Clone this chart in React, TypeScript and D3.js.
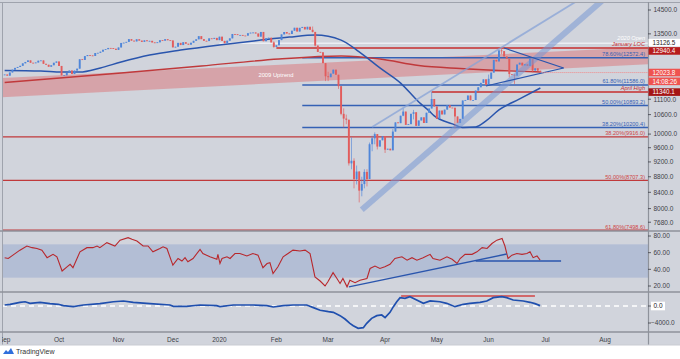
import React from "react";
import * as d3 from "d3";

// ---------- DATA ----------
const monthLabels = ["Sep", "Oct", "Nov", "Dec", "2020", "Feb", "Mar", "Apr", "May", "Jun", "Jul", "Aug"];
const monthIdx = [0, 21, 44, 65, 83, 105, 125, 147, 167, 187, 209, 232];

// daily closes, Sep 2 2019 .. Jun 29 2020 (trading-day index 0..207)
const closes = [
  11953, 11911, 12025, 12127, 12192, 12226, 12268, 12360, 12410, 12469, 12381, 12372, 12390, 12457, 12468, 12342, 12307, 12234, 12289, 12381, 12428,
  12263, 11925, 11926, 12013, 12097, 11970, 12094, 12164, 12512, 12486, 12630, 12670, 12654, 12634, 12748, 12754, 12799, 12872, 12895, 12942, 12940, 12910, 12867,
  12961, 13137, 13148, 13180, 13289, 13228, 13198, 13283, 13230, 13180, 13242, 13207, 13221, 13158, 13138, 13163, 13246, 13227, 13287, 13245, 13236,
  12965, 12989, 13140, 13055, 13167, 13106, 13071, 13145, 13222, 13282, 13407, 13288, 13222, 13212, 13319, 13300, 13337, 13249,
  13386, 13219, 13127, 13227, 13320, 13495, 13483, 13452, 13456, 13432, 13429, 13526, 13548, 13556, 13515, 13388, 13577, 13205, 13324, 13345, 13158, 12982,
  13046, 13250, 13479, 13575, 13514, 13494, 13628, 13749, 13595, 13745, 13783, 13681, 13789, 13665, 13579, 13035, 12790, 12775, 12367, 11890,
  11857, 11985, 12127, 11944, 11542, 10625, 10475, 10439, 9161, 9232, 8742, 8939, 8442, 8610, 8929, 8741, 9701, 9874, 10000, 9633, 9816, 9936,
  9544, 9571, 9526, 10075, 10356, 10333, 10565, 10697, 10280, 10302, 10626, 10676, 10250, 10416, 10514, 10337, 10660, 10796, 11108, 10862,
  10467, 10730, 10606, 10760, 10904, 10825, 10820, 10542, 10337, 10465, 11058, 11075, 11224, 11066, 11074, 11391, 11505, 11657, 11781, 11587,
  11800, 12021, 12487, 12431, 12848, 12820, 12617, 12530, 11970, 11949, 11911, 12315, 12382, 12281, 12331, 12262, 12523, 12093, 12177, 12089, 12024,
];
const firstOpen = 11940;
// notable wicks: [index, high, low]
const wicks = [
  [104, 13200, 12950], [119, 13800, 13560], [120, 13400, 13000], [124, 12300, 11720],
  [125, 12050, 11720], [129, 11800, 11450], [130, 11050, 10580], [131, 10800, 10200], [132, 10600, 10300],
  [133, 10250, 9100], [134, 9900, 9000], [135, 9300, 8500], [136, 9100, 8600], [137, 8950, 8150], [138, 8800, 8300],
  [139, 9000, 8500], [140, 9000, 8550], [141, 9750, 9050], [142, 9950, 9500], [143, 10050, 9700], [144, 9900, 9550],
  [147, 9900, 9450], [150, 10150, 9700], [154, 10800, 10550], [158, 10750, 10450], [165, 11340, 10800],
  [174, 10560, 10160], [187, 11950, 11580], [192, 12940, 12700], [195, 12500, 11850], [197, 11960, 11620], [204, 12450, 12030],
];

const ma50Idx = [0, 14, 22, 29, 37, 45, 56, 68, 83, 99, 110, 120, 130, 137, 145, 153, 160, 164, 166, 173, 177, 182, 186, 191, 199, 207];
const ma50Val = [12100, 12080, 12040, 12040, 12190, 12410, 12670, 12860, 13060, 13250, 13370, 13450, 13250, 12790, 12190, 11650, 11010, 10720, 10560, 10310, 10200, 10215, 10400, 10750, 11110, 11480];
const ma200Idx = [0, 45, 76, 106, 130, 145, 160, 176, 191, 207];
const ma200Val = [11670, 12007, 12261, 12521, 12634, 12521, 12280, 12170, 12097, 12043];

const bandIdx = [-1, 249];
const bandTop = [11830, 12980];
const bandBottom = [11170, 12330];

const blueFibLabels = ["78.60%(12572.4)", "61.80%(11586.0)", "50.00%(10893.2)", "38.20%(10200.4)"];
const blueFibValues = [12572.4, 11586.0, 10893.2, 10200.4];
const blueFibStart = 115;
const redFibLabels = ["38.20%(9916.0)", "50.00%(8707.3)", "61.80%(7498.6)"];
const redFibValues = [9916.0, 8707.3, 7498.6];

const openLevel = 13126.5, openStart = 83;
const locLevel = 12940.4, locStart = 105;
const aprilHigh = 11340.1, aprilStart = 165;
const lastPrice = 12023.8;
const countdown = "14:08:26";

const thinLineIdx = [142, 215.5], thinLineVal = [10216, 14500];
const thickLineIdx = [138, 226.7], thickLineVal = [7970, 14500];
const triUpperIdx = [193, 216], triUpperVal = [12940, 12188];
const triLowerIdx = [186, 216], triLowerVal = [11549, 12188];

const priceTicks = [14500, 13500, 11100, 10600, 10000, 9600, 9200, 8800, 8400, 8000, 7680];

const rsiIdx = [0, 1.4, 3.2, 5.9, 8.6, 10.6, 12.5, 14.4, 16.4, 18.7, 20.2, 22.2, 24.1, 25.3, 26.4, 29.1, 31.8, 34.1, 35.7, 36.8, 39.5, 42.6, 44.6, 47.7, 49.2, 51.1, 53.5, 55.4, 57.3, 60, 61.2, 62.7, 65, 67, 68.5, 69.7, 70.8, 72.8, 75.5, 76.6, 79.3, 82, 82.4, 83.2, 84, 85.9, 87.1, 89, 90.9, 93.6, 95.9, 97.9, 99.8, 101.4, 102.5, 103.7, 105.6, 107.6, 109.5, 111.4, 114.1, 116.1, 118, 119.9, 121.9, 123.8, 124.9, 126.9, 128.4, 129.6, 130.7, 132.3, 133.4, 135.4, 137.3, 140, 141.2, 143.1, 145, 146.9, 148.9, 150.8, 153.5, 155.5, 157.4, 159.3, 161.7, 164.4, 165.5, 168.2, 170.9, 172.9, 174.8, 176, 177.9, 180.6, 182.5, 184.5, 186.4, 188.3, 190.2, 192.2, 193.3, 194.5, 196, 197.9, 199.9, 201.8, 203, 204.2, 205.7, 206.9];
const rsiVal = [54, 53, 57, 63, 68, 66, 65, 63, 54, 58, 55, 38, 43, 46, 42, 61, 66, 66, 68, 66, 72, 68, 75, 78, 76, 74, 68, 68, 61, 65, 67, 65, 45, 53, 50, 54, 49, 53, 64, 59, 55, 52, 58, 47, 53, 55, 53, 59, 59, 56, 59, 57, 42, 47, 48, 35, 43, 55, 59, 63, 62, 63, 59, 31, 26, 20, 25, 36, 29, 23, 29, 19, 27, 24, 27, 29, 41, 44, 41, 43, 46, 53, 55, 51, 54, 51, 54, 58, 53, 51, 55, 52, 47, 53, 58, 58, 61, 66, 65, 71, 75, 77, 68, 53, 57, 59, 58, 59, 61, 54, 56, 51];
const rsiTicks = [80, 60, 40, 20];
const rsiTrendIdx = [133, 194], rsiTrendVal = [19, 58.4];
const rsiFlatIdx = [182, 215], rsiFlatVal = 50;

const oscIdx = [0, 2.1, 5.9, 7.9, 9.8, 13.7, 17.5, 20.7, 22.7, 26.5, 30.4, 36.8, 42, 45.9, 49.7, 56.2, 63.9, 65.2, 70.3, 75.5, 81.9, 83.2, 88.4, 96.1, 101.3, 103.8, 107.7, 111.5, 116.7, 119.3, 121.9, 125.1, 127, 129.6, 131.5, 133.4, 134.7, 136.6, 138.6, 139.9, 141.8, 143.8, 145.7, 147, 148.9, 150.2, 151.5, 152.8, 154.7, 156.6, 159.2, 161.8, 164.4, 168.2, 170.8, 174, 177.2, 179.8, 183.7, 186.3, 188.8, 192.1, 194, 196.5, 200.4, 203, 204.9, 206.9];
const oscVal = [235, 400, 870, 1000, 640, 870, 550, 400, 80, -160, 235, 550, 1000, 1180, 870, 550, 235, -80, -80, 235, 80, -160, 235, 235, 80, -235, 80, 235, 235, -390, -1000, -1330, -1490, -2270, -3060, -4080, -4630, -5250, -5100, -4080, -2900, -2270, -2120, -2750, -1490, -160, 1000, 1960, 1800, 2200, 1410, 630, 1180, 1000, 630, -160, 400, 630, 870, 1180, 1960, 2200, 1960, 1410, 1180, 870, 550, 80];
const oscRedIdx = [153.2, 204.9], oscRedVal = 2350;

// ---------- COMPONENT ----------
export default function App() {
  const W = 680, H = 359;
  const L = 2, R = 648;
  const mainTop = 2, mainBot = 231, rsiBot = 292, oscBot = 332, axisBot = 345;
  const BG = "#d1d4dc";
  const UP = "#4f86d9", DN = "#e25c5c";
  const font = "'Liberation Sans', Arial, sans-serif";

  const x = d3.scaleLinear().domain([0, 232]).range([4.65, 4.65 + 232 * 2.588]);
  const y = d3.scaleLog().domain([14500, 8000]).range([10, 208.6]);
  const ry = d3.scaleLinear().domain([20, 80]).range([286, 236]);
  const oy = d3.scaleLinear().domain([0, -4000]).range([306, 323]);

  const wickMap = new Map<number, number[]>();
  wicks.forEach((w) => wickMap.set(w[0], [w[1], w[2]]));

  const candles = closes.map((c, i) => {
    const o = i === 0 ? firstOpen : closes[i - 1];
    const w = wickMap.get(i);
    const hi = Math.max(o, c, w ? w[0] : 0);
    const lo = Math.min(o, c, w ? w[1] : 1e9);
    return { i, o, c, hi, lo };
  });

  const mk = (xs: number[], vs: number[], ys: any, curve: any = d3.curveLinear) =>
    d3.line<number>().x((_, k) => x(xs[k])).y((v) => ys(v)).curve(curve)(vs) || "";

  const extLine = (xs: number[], vs: number[], f = 3) => {
    const x1 = x(xs[0]), y1 = y(vs[0]), x2 = x(xs[1]), y2 = y(vs[1]);
    return { x1, y1, x2: x1 + (x2 - x1) * f, y2: y1 + (y2 - y1) * f };
  };
  const thin = extLine(thinLineIdx, thinLineVal);
  const thick = extLine(thickLineIdx, thickLineVal);

  const bandPath = `M${x(bandIdx[0])},${y(bandTop[0])}L${x(bandIdx[1])},${y(bandTop[1])}L${x(bandIdx[1])},${y(bandBottom[1])}L${x(bandIdx[0])},${y(bandBottom[0])}Z`;

  const axisText = "#3d3f47";
  const BOX_H = 7.6;
  const labelBox = (cy: number, text: string, fill: string, color: string, key: string) => (
    <g key={key}>
      <rect x={648.5} y={cy - BOX_H / 2} width={31.5} height={BOX_H} fill={fill} />
      <text x={652.5} y={cy + 2.2} fontSize={6.3} fill={color}>{text}</text>
    </g>
  );
  // label centres pushed apart like the platform does when they collide
  const openCy = y(openLevel) - 0.6;
  const locCy = openCy + BOX_H + 0.7;
  const lastCy = y(lastPrice);
  const timerCy = lastCy + BOX_H + 1.2;
  const aprCy = Math.max(y(aprilHigh), timerCy + BOX_H + 2);

  return (
    <svg width={W} height={H} style={{ position: "absolute", left: 0, top: 0, fontFamily: font }}>
      <rect width={W} height={H} fill="#ffffff" />
      <rect x={0} y={0} width={W} height={axisBot} fill={BG} />
      <defs>
        <clipPath id="cMain"><rect x={L} y={mainTop} width={R - L} height={mainBot - mainTop} /></clipPath>
        <clipPath id="cRsi"><rect x={L} y={mainBot} width={R - L} height={rsiBot - mainBot} /></clipPath>
        <clipPath id="cOsc"><rect x={L} y={rsiBot} width={R - L} height={oscBot - rsiBot} /></clipPath>
      </defs>

      {/* MAIN PANE */}
      <g clipPath="url(#cMain)">
        <path d={bandPath} fill="rgba(226,70,70,0.34)" />
        {redFibValues.map((v, k) => (
          <line key={"rf" + k} x1={L} x2={R} y1={y(v)} y2={y(v)} stroke="#c0393b" strokeWidth={1.3} />
        ))}
        {blueFibValues.map((v, k) => (
          <line key={"bf" + k} x1={x(blueFibStart)} x2={R} y1={y(v)} y2={y(v)} stroke="#3561b5" strokeWidth={1.5} />
        ))}
        <line x1={x(openStart)} x2={R} y1={y(openLevel)} y2={y(openLevel)} stroke="#eceef3" strokeWidth={1.5} />
        <line x1={x(locStart)} x2={R} y1={y(locLevel)} y2={y(locLevel)} stroke="#c62e2e" strokeWidth={1.5} />
        <line x1={x(aprilStart)} x2={R} y1={y(aprilHigh)} y2={y(aprilHigh)} stroke="#c62e2e" strokeWidth={1.5} />

        <path d={mk(ma200Idx, ma200Val, y, d3.curveMonotoneX)} fill="none" stroke="#c0393b" strokeWidth={1.4} />
        <path d={mk(ma50Idx, ma50Val, y, d3.curveMonotoneX)} fill="none" stroke="#2a55ad" strokeWidth={1.5} />

        {candles.map((d) => {
          const col = d.c >= d.o ? UP : DN;
          const cx = x(d.i);
          const top = y(Math.max(d.o, d.c));
          const bot = y(Math.min(d.o, d.c));
          return (
            <g key={"c" + d.i}>
              <line x1={cx} x2={cx} y1={y(d.hi)} y2={y(d.lo)} stroke={col} strokeWidth={0.8} opacity={0.8} />
              <rect x={cx - 0.95} y={top} width={1.9} height={Math.max(0.8, bot - top)} fill={col} />
            </g>
          );
        })}

        <line x1={thick.x1} y1={thick.y1} x2={thick.x2} y2={thick.y2} stroke="rgba(120,152,212,0.55)" strokeWidth={6} />
        <line x1={thin.x1} y1={thin.y1} x2={thin.x2} y2={thin.y2} stroke="rgba(135,163,215,0.75)" strokeWidth={1.8} />

        <path d={mk(triUpperIdx, triUpperVal, y)} fill="none" stroke="#2a55ad" strokeWidth={1.2} />
        <path d={mk(triLowerIdx, triLowerVal, y)} fill="none" stroke="#2a55ad" strokeWidth={1.2} />

        <line x1={x(closes.length - 1) + 2} x2={R} y1={y(lastPrice)} y2={y(lastPrice)} stroke="#f08a8a" strokeWidth={1} strokeDasharray="1,1" />

        <text x={276} y={76.5} fontSize={5.8} fill="#ffffff" textAnchor="middle">2009 Uptrend</text>
        {blueFibValues.map((v, k) => (
          <text key={"bt" + k} x={645} y={y(v) - 1.6} fontSize={5.6} fill="#3561b5" textAnchor="end">{blueFibLabels[k]}</text>
        ))}
        {redFibValues.map((v, k) => (
          <text key={"rt" + k} x={645} y={Math.min(y(v) - 1.6, 229)} fontSize={5.6} fill="#d04545" textAnchor="end">{redFibLabels[k]}</text>
        ))}
        <text x={645} y={y(openLevel) - 3.2} fontSize={5.6} fill="#ffffff" textAnchor="end" fontStyle="italic">2020 Open</text>
        <text x={645} y={y(locLevel) - 2.2} fontSize={5.6} fill="#c62e2e" textAnchor="end" fontStyle="italic">January LOC</text>
        <text x={645} y={y(aprilHigh) - 1.8} fontSize={5.6} fill="#c62e2e" textAnchor="end" fontStyle="italic">April High</text>
      </g>

      {/* RSI PANE */}
      <g clipPath="url(#cRsi)">
        <rect x={L} y={ry(70)} width={R - L} height={ry(30) - ry(70)} fill="#b3bed5" />
        <path d={mk(rsiIdx, rsiVal, ry)} fill="none" stroke="#b8272c" strokeWidth={1.1} />
        <path d={mk(rsiTrendIdx, rsiTrendVal, ry)} fill="none" stroke="#2a55ad" strokeWidth={1.3} />
        <line x1={x(rsiFlatIdx[0])} x2={x(rsiFlatIdx[1])} y1={ry(rsiFlatVal)} y2={ry(rsiFlatVal)} stroke="#2a55ad" strokeWidth={1.3} />
      </g>

      {/* OSC PANE */}
      <g clipPath="url(#cOsc)">
        <line x1={L} x2={R} y1={oy(0)} y2={oy(0)} stroke="#ffffff" strokeWidth={1.3} strokeDasharray="5,4" />
        <line x1={x(oscRedIdx[0])} x2={x(oscRedIdx[1])} y1={oy(oscRedVal)} y2={oy(oscRedVal)} stroke="#d04545" strokeWidth={1.4} />
        <path d={mk(oscIdx, oscVal, oy)} fill="none" stroke="#1f4fae" strokeWidth={1.7} />
      </g>

      {/* frame & separators */}
      <line x1={0} x2={W} y1={2.5} y2={2.5} stroke="#9fa3ad" strokeWidth={1} />
      <line x1={2.5} x2={2.5} y1={2} y2={axisBot} stroke="#9fa3ad" strokeWidth={1} />
      {[mainBot, rsiBot, oscBot].map((yy, k) => (
        <line key={"sep" + k} x1={0} x2={W} y1={yy} y2={yy} stroke="#8e929b" strokeWidth={1.4} />
      ))}
      <line x1={R + 0.5} x2={R + 0.5} y1={2} y2={axisBot} stroke="#8e929b" strokeWidth={1.2} />
      <line x1={0} x2={W} y1={axisBot} y2={axisBot} stroke="#c9ccd3" strokeWidth={1} />

      {/* price axis */}
      {priceTicks.map((v) => (
        <g key={"pt" + v}>
          <line x1={R} x2={R + 3} y1={y(v)} y2={y(v)} stroke={axisText} strokeWidth={0.8} />
          <text x={653.5} y={y(v) + 2.3} fontSize={6.5} fill={axisText}>{v.toFixed(1)}</text>
        </g>
      ))}
      {labelBox(openCy, openLevel.toFixed(1), "#ffffff", "#222", "lb1")}
      {labelBox(locCy, locLevel.toFixed(1), "#b71c1c", "#ffffff", "lb2")}
      {labelBox(lastCy, lastPrice.toFixed(1), "#ef5350", "#ffffff", "lb3")}
      {labelBox(timerCy, countdown, "#ef5350", "#ffffff", "lb4")}
      {labelBox(aprCy, aprilHigh.toFixed(1), "#a51515", "#ffffff", "lb5")}

      {/* rsi axis */}
      {rsiTicks.map((v) => (
        <g key={"rt" + v}>
          <line x1={R} x2={R + 3} y1={ry(v)} y2={ry(v)} stroke={axisText} strokeWidth={0.8} />
          <text x={653.5} y={ry(v) + 2.3} fontSize={6.5} fill={axisText}>{v.toFixed(2)}</text>
        </g>
      ))}

      {/* osc axis */}
      <line x1={R} x2={R + 3} y1={oy(-4000)} y2={oy(-4000)} stroke={axisText} strokeWidth={0.8} />
      <text x={651} y={oy(-4000) + 2.3} fontSize={6.5} fill={axisText}>{"\u22124000.0"}</text>
      <line x1={R} x2={R + 3} y1={oy(0)} y2={oy(0)} stroke={axisText} strokeWidth={0.8} />
      <rect x={651} y={oy(0) - 4.3} width={14} height={8.6} fill="#ffffff" />
      <text x={653.5} y={oy(0) + 2.3} fontSize={6.5} fill="#222">0.0</text>

      {/* time axis */}
      {monthLabels.map((m, k) => (
        <text key={"m" + k} x={x(monthIdx[k])} y={341.5} fontSize={6.5} fill={axisText} textAnchor="middle">{m}</text>
      ))}
      <rect x={0} y={oscBot + 1} width={2} height={axisBot - oscBot - 1} fill={BG} />

      {/* logo */}
      <g transform="translate(3,348)">
        <path d="M0,6 L3,2 L5,4 L8,0 L11,6 Z" fill="#2f6fdc" />
        <text x={13} y={6} fontSize={7} fill="#333">TradingView</text>
      </g>
    </svg>
  );
}
